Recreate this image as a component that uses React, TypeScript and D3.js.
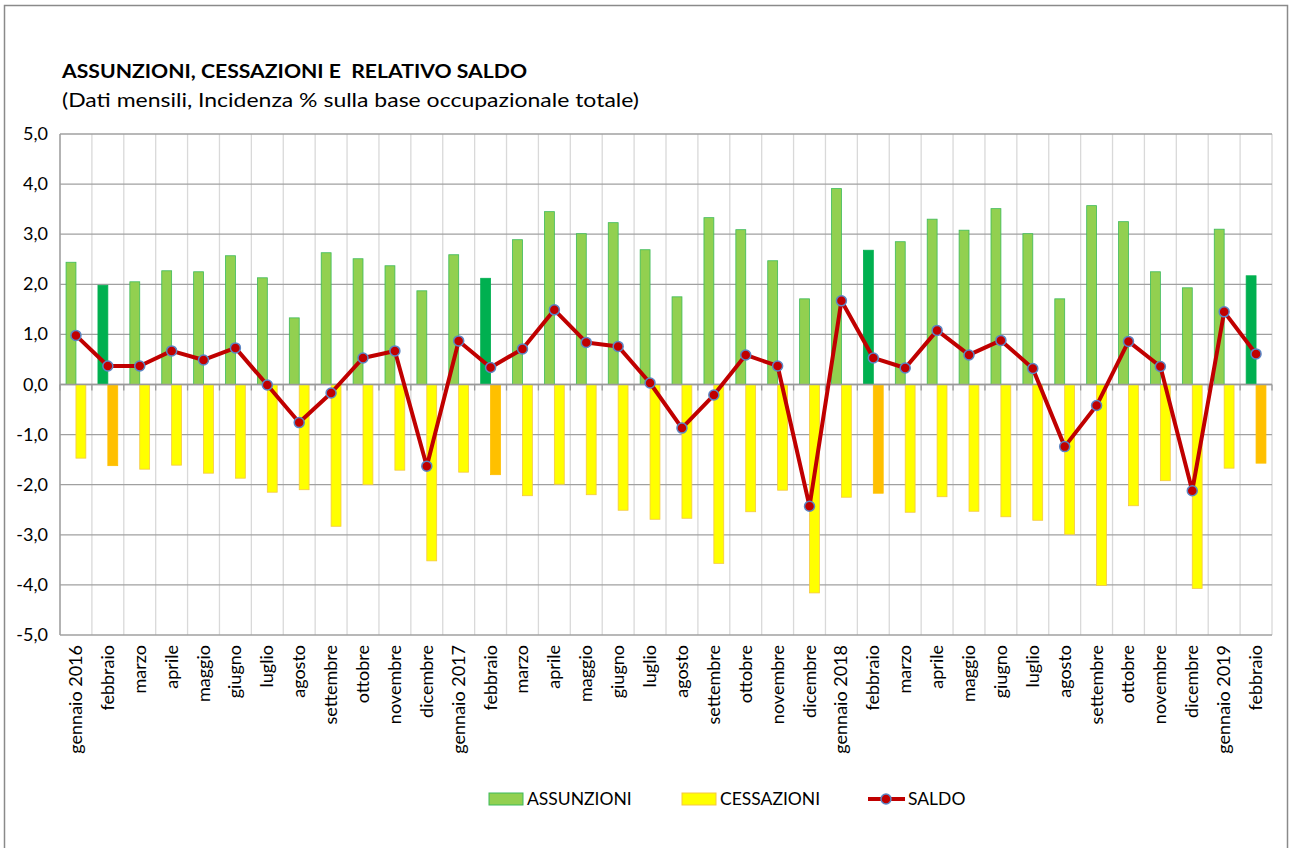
import React, { useEffect, useRef } from 'react';
import * as d3 from 'd3';

const months = [
  'gennaio 2016', 'febbraio', 'marzo', 'aprile', 'maggio', 'giugno', 'luglio', 'agosto', 'settembre', 'ottobre', 'novembre', 'dicembre',
  'gennaio 2017', 'febbraio', 'marzo', 'aprile', 'maggio', 'giugno', 'luglio', 'agosto', 'settembre', 'ottobre', 'novembre', 'dicembre',
  'gennaio 2018', 'febbraio', 'marzo', 'aprile', 'maggio', 'giugno', 'luglio', 'agosto', 'settembre', 'ottobre', 'novembre', 'dicembre',
  'gennaio 2019', 'febbraio'
];

const assunzioni = [
  2.44, 1.98, 2.05, 2.27, 2.25, 2.57, 2.13, 1.33, 2.63, 2.51, 2.37, 1.87,
  2.59, 2.12, 2.89, 3.45, 3.01, 3.23, 2.69, 1.75, 3.33, 3.09, 2.47, 1.71,
  3.91, 2.68, 2.85, 3.30, 3.08, 3.51, 3.01, 1.71, 3.57, 3.25, 2.25, 1.93,
  3.10, 2.17
];

const cessazioni = [
  -1.47, -1.62, -1.69, -1.61, -1.77, -1.87, -2.15, -2.10, -2.83, -2.00, -1.71, -3.52,
  -1.75, -1.80, -2.22, -1.99, -2.20, -2.51, -2.69, -2.67, -3.57, -2.54, -2.11, -4.16,
  -2.25, -2.17, -2.55, -2.24, -2.53, -2.64, -2.71, -2.99, -4.01, -2.42, -1.92, -4.07,
  -1.67, -1.57
];

const saldo = [
  0.98, 0.37, 0.37, 0.67, 0.49, 0.73, -0.01, -0.76, -0.17, 0.53, 0.67, -1.63,
  0.87, 0.34, 0.71, 1.49, 0.84, 0.76, 0.03, -0.87, -0.21, 0.59, 0.37, -2.43,
  1.67, 0.53, 0.33, 1.08, 0.59, 0.88, 0.32, -1.24, -0.42, 0.86, 0.36, -2.12,
  1.45, 0.61
];

const yTicks = [5, 4, 3, 2, 1, 0, -1, -2, -3, -4, -5];

const FONT = 'Lato, "Open Sans", sans-serif';

export default function App() {
  const ref = useRef<SVGSVGElement>(null);

  useEffect(() => {
    const W = 1290, H = 848;
    const margin = { top: 134, right: 18, bottom: 213, left: 60 };
    const svg = d3.select(ref.current);
    svg.selectAll('*').remove();

    // chart border
    svg.append('rect')
      .attr('x', 4.5).attr('y', 5.5).attr('width', 1283).attr('height', 860)
      .attr('fill', '#fff').attr('stroke', '#8a8a8a').attr('stroke-width', 1.5);

    // titles
    svg.append('text')
      .attr('x', 62).attr('y', 78)
      .attr('font-family', FONT).attr('font-weight', 'bold').attr('font-size', 19)
      .attr('textLength', 465).attr('lengthAdjust', 'spacingAndGlyphs')
      .attr('xml:space', 'preserve')
      .text('ASSUNZIONI, CESSAZIONI E  RELATIVO SALDO');
    svg.append('text')
      .attr('x', 62).attr('y', 107)
      .attr('font-family', FONT).attr('font-size', 19)
      .attr('textLength', 577).attr('lengthAdjust', 'spacingAndGlyphs')
      .text('(Dati mensili, Incidenza % sulla base occupazionale totale)');

    const idx = months.map((_, i) => i);
    const x = d3.scaleBand<number>()
      .domain(idx)
      .range([margin.left, W - margin.right]);
    const xr = x.range();
    const y = d3.scaleLinear().domain([-5, 5]).range([H - margin.bottom, margin.top]);
    const bw = x.bandwidth() * 0.31;
    const cx = (i: number) => (x(i) as number) + x.bandwidth() / 2;

    // vertical gridlines (category boundaries)
    svg.append('g').selectAll('line')
      .data(d3.range(months.length + 1))
      .enter().append('line')
      .attr('x1', d => margin.left + d * x.bandwidth())
      .attr('x2', d => margin.left + d * x.bandwidth())
      .attr('y1', y(5)).attr('y2', y(-5))
      .attr('stroke', d => (d === 0 ? '#9a9a9a' : '#d9d9d9'))
      .attr('stroke-width', d => (d === 0 ? 1.5 : 1.3));

    // horizontal gridlines
    svg.append('g').selectAll('line')
      .data(yTicks)
      .enter().append('line')
      .attr('x1', xr[0]).attr('x2', xr[1])
      .attr('y1', d => y(d)).attr('y2', d => y(d))
      .attr('stroke', '#a0a0a0').attr('stroke-width', 1.3);

    // y tick labels
    svg.append('g').selectAll('text')
      .data(yTicks)
      .enter().append('text')
      .attr('x', 48).attr('y', d => y(d) + 6)
      .attr('text-anchor', 'end')
      .attr('font-family', FONT).attr('font-size', 18).attr('fill', '#000')
      .text(d => d3.format('.1f')(d).replace('.', ',').replace('−', '-'));

    // zero axis tick marks
    svg.append('g').selectAll('line')
      .data(d3.range(months.length + 1))
      .enter().append('line')
      .attr('x1', d => margin.left + d * x.bandwidth())
      .attr('x2', d => margin.left + d * x.bandwidth())
      .attr('y1', y(0)).attr('y2', y(0) + 6)
      .attr('stroke', '#9a9a9a').attr('stroke-width', 1.3);

    // assunzioni bars
    svg.append('g').selectAll('rect')
      .data(assunzioni)
      .enter().append('rect')
      .attr('x', (d, i) => cx(i) - bw)
      .attr('y', d => y(d))
      .attr('width', bw)
      .attr('height', d => y(0) - y(d))
      .attr('fill', (d, i) => (months[i] === 'febbraio' ? '#00b050' : '#92d050'))
      .attr('stroke', (d, i) => (months[i] === 'febbraio' ? '#00b050' : '#3cba5a'))
      .attr('stroke-width', 0.8);

    // cessazioni bars
    svg.append('g').selectAll('rect')
      .data(cessazioni)
      .enter().append('rect')
      .attr('x', (d, i) => cx(i))
      .attr('y', y(0))
      .attr('width', bw)
      .attr('height', d => y(d) - y(0))
      .attr('fill', (d, i) => (months[i] === 'febbraio' ? '#ffc000' : '#ffff00'))
      .attr('stroke', (d, i) => (months[i] === 'febbraio' ? '#ffc000' : '#f5c842'))
      .attr('stroke-width', 0.8);

    // zero line on top
    svg.append('line')
      .attr('x1', xr[0]).attr('x2', xr[1])
      .attr('y1', y(0)).attr('y2', y(0))
      .attr('stroke', '#9a9a9a').attr('stroke-width', 1.5);

    // saldo line
    const line = d3.line<number>().x((d, i) => cx(i)).y(d => y(d));
    svg.append('path')
      .datum(saldo)
      .attr('d', line)
      .attr('fill', 'none')
      .attr('stroke', '#c00000')
      .attr('stroke-width', 4)
      .attr('stroke-linejoin', 'round');

    svg.append('g').selectAll('circle')
      .data(saldo)
      .enter().append('circle')
      .attr('cx', (d, i) => cx(i))
      .attr('cy', d => y(d))
      .attr('r', 5)
      .attr('fill', '#c00000')
      .attr('stroke', '#5b86c5')
      .attr('stroke-width', 1.5);

    // x labels, rotated
    svg.append('g').selectAll('text')
      .data(months)
      .enter().append('text')
      .attr('transform', (d, i) => `translate(${cx(i) + 6},${y(-5) + 10}) rotate(-90)`)
      .attr('text-anchor', 'end')
      .attr('font-family', FONT).attr('font-size', 18).attr('fill', '#000')
      .text(d => d);

    // legend
    const lg = svg.append('g').attr('font-family', FONT).attr('font-size', 17.5);
    lg.append('rect').attr('x', 489).attr('y', 793).attr('width', 34).attr('height', 12)
      .attr('fill', '#92d050').attr('stroke', '#3cba5a');
    lg.append('text').attr('x', 527).attr('y', 805).text('ASSUNZIONI');
    lg.append('rect').attr('x', 682).attr('y', 793).attr('width', 34).attr('height', 12)
      .attr('fill', '#ffff00').attr('stroke', '#f5c842');
    lg.append('text').attr('x', 720).attr('y', 805).text('CESSAZIONI');
    lg.append('line').attr('x1', 868).attr('x2', 905).attr('y1', 799).attr('y2', 799)
      .attr('stroke', '#c00000').attr('stroke-width', 4);
    lg.append('circle').attr('cx', 886).attr('cy', 799).attr('r', 5)
      .attr('fill', '#c00000').attr('stroke', '#5b86c5').attr('stroke-width', 1.5);
    lg.append('text').attr('x', 908).attr('y', 805).text('SALDO');
  }, []);

  return (
    <svg
      ref={ref}
      width={1290}
      height={848}
      style={{ position: 'absolute', left: 0, top: 0, display: 'block', background: '#fff' }}
    />
  );
}
